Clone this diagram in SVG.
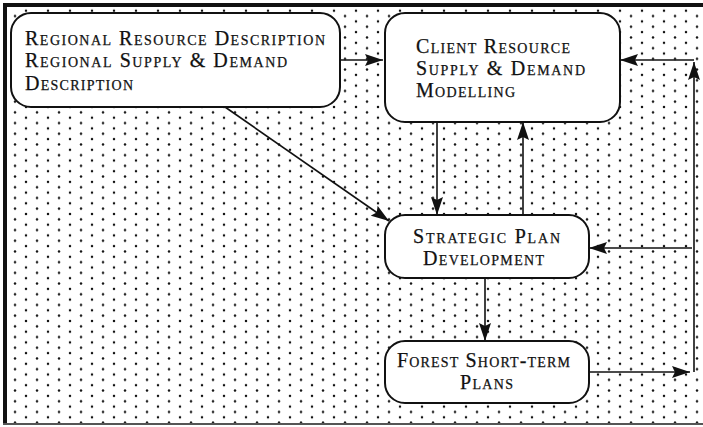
<svg xmlns="http://www.w3.org/2000/svg" width="703" height="427" viewBox="0 0 703 427">
  <style>
    .box { fill: #ffffff; stroke: #111111; stroke-width: 2; }
    .lbl { font-family: "Liberation Serif", "Times New Roman", serif; font-size: 20px; font-variant: small-caps; fill: #111111; stroke: #111111; stroke-width: 0.25; }
    .wire { stroke: #111111; stroke-width: 1.6; fill: none; }
  </style>
  <defs>
    <pattern id="dots" patternUnits="userSpaceOnUse" x="0" y="0" width="22" height="10.7">
      <circle cx="4" cy="0" r="1.25" fill="#111"/>
      <circle cx="4" cy="10.7" r="1.25" fill="#111"/>
      <circle cx="15" cy="5.3" r="1.25" fill="#111"/>
    </pattern>
    <marker id="arrow" viewBox="0 0 18 12" refX="18" refY="6" markerWidth="18" markerHeight="12" markerUnits="userSpaceOnUse" orient="auto">
      <path d="M0,0 L18,6 L0,12 L3,6 Z" fill="#111"/>
    </marker>
  </defs>

  <!-- page background and dotted field -->
  <rect x="0" y="0" width="703" height="427" fill="#ffffff"/>
  <rect x="6" y="6" width="697" height="418" fill="url(#dots)"/>

  <!-- frame -->
  <g id="frame">
    <line x1="3" y1="5" x2="703" y2="5" stroke="#111" stroke-width="4"/>
    <line x1="5" y1="3" x2="5" y2="424" stroke="#111" stroke-width="4"/>
    <line x1="3" y1="424" x2="703" y2="424" stroke="#555" stroke-width="2"/>
  </g>

  <!-- connectors -->
  <g id="connectors">
    <line class="wire" x1="340" y1="60" x2="383" y2="60" marker-end="url(#arrow)"/>
    <line class="wire" x1="225" y1="107" x2="389" y2="221" marker-end="url(#arrow)"/>
    <line class="wire" x1="437" y1="122" x2="437" y2="215" marker-end="url(#arrow)"/>
    <line class="wire" x1="523" y1="215" x2="523" y2="122" marker-end="url(#arrow)"/>
    <line class="wire" x1="485" y1="278" x2="485" y2="341" marker-end="url(#arrow)"/>
    <line class="wire" x1="589" y1="372" x2="690" y2="372" marker-end="url(#arrow)"/>
    <line class="wire" x1="694" y1="372" x2="694" y2="62" marker-end="url(#arrow)"/>
    <line class="wire" x1="694" y1="60" x2="620" y2="60" marker-end="url(#arrow)"/>
    <line class="wire" x1="692" y1="248" x2="589" y2="248" marker-end="url(#arrow)"/>
  </g>

  <g id="regional">
    <rect class="box" x="11" y="13" width="329" height="94" rx="20" ry="20"/>
    <text class="lbl" x="25" y="45" textLength="300" lengthAdjust="spacing">Regional Resource Description</text>
    <text class="lbl" x="25" y="67" textLength="262" lengthAdjust="spacing">Regional Supply &amp; Demand</text>
    <text class="lbl" x="25" y="90" textLength="108" lengthAdjust="spacing">Description</text>
  </g>

  <g id="client">
    <rect class="box" x="385" y="13" width="235" height="109" rx="20" ry="20"/>
    <text class="lbl" x="416" y="53" textLength="154" lengthAdjust="spacing">Client Resource</text>
    <text class="lbl" x="416" y="75" textLength="169" lengthAdjust="spacing">Supply &amp; Demand</text>
    <text class="lbl" x="416" y="97" textLength="99" lengthAdjust="spacing">Modelling</text>
  </g>

  <g id="strategic">
    <rect class="box" x="385" y="215" width="204" height="63" rx="20" ry="20"/>
    <text class="lbl" x="413" y="243" textLength="147" lengthAdjust="spacing">Strategic Plan</text>
    <text class="lbl" x="423" y="265" textLength="121" lengthAdjust="spacing">Development</text>
  </g>

  <g id="forest">
    <rect class="box" x="385" y="341" width="204" height="62" rx="20" ry="20"/>
    <text class="lbl" x="397" y="367" textLength="173" lengthAdjust="spacing">Forest Short-term</text>
    <text class="lbl" x="460" y="389" textLength="53" lengthAdjust="spacing">Plans</text>
  </g>
</svg>
